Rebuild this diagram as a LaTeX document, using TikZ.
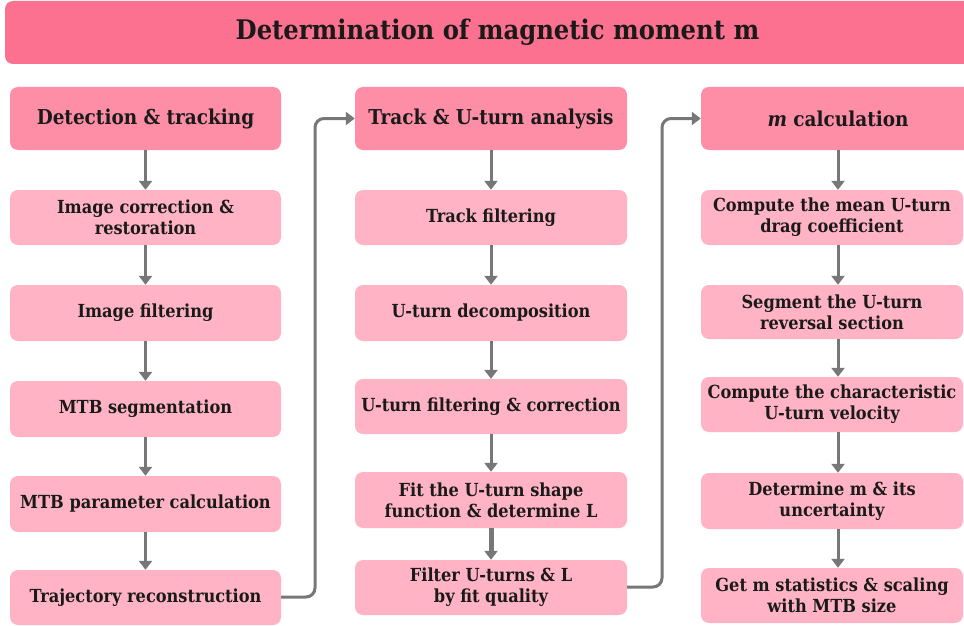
\documentclass[tikz,border=0pt]{standalone}
\usepackage{fontspec}
\setmainfont{DejaVu Serif Condensed}[BoldFont={DejaVu Serif Condensed Bold},BoldItalicFont={DejaVu Serif Condensed Bold Italic}]
\usetikzlibrary{arrows.meta}
\definecolor{titlepink}{HTML}{FD7190}
\definecolor{headpink}{HTML}{FE8DA6}
\definecolor{steppink}{HTML}{FFB3C4}
\definecolor{linegray}{HTML}{777777}
\definecolor{ink}{HTML}{1A1A1A}
\tikzset{
  box/.style={rounded corners=8pt, text=ink, align=center, inner sep=0pt, font=\bfseries},
  titlebox/.style={box, fill=titlepink, font=\bfseries\fontsize{27}{32}\selectfont},
  headbox/.style={box, fill=headpink, font=\bfseries\fontsize{20.5}{24}\selectfont},
  stepbox/.style={box, fill=steppink, font=\bfseries\fontsize{18}{21}\selectfont},
  flow/.style={draw=linegray, line width=3pt, -{Triangle[length=9pt,width=13pt]}},
  jump/.style={flow, rounded corners=9pt}
}
% box from (x1,y1) to (x2,y2), y measured downwards
\newcommand{\boxat}[7]{%
  \node[#1, minimum width={#4-#2}, minimum height={#5-#3}] (#6) at ({(#2+#4)/2},{(#3+#5)/2}) {#7};}
\begin{document}
\begin{tikzpicture}[x=1pt,y=-1pt]
\useasboundingbox (0,0) rectangle (964,626);
\clip (0,0) rectangle (964,626);

% banner
\boxat{titlebox}{5}{1}{990}{64}{title}{Determination of magnetic moment m}

% column 1
\boxat{headbox}{10}{87}{281}{150}{h1}{Detection \& tracking}
\boxat{stepbox}{10}{190}{281}{245}{a1}{Image correction \&\\restoration}
\boxat{stepbox}{10}{285}{281}{341}{a2}{Image filtering}
\boxat{stepbox}{10}{381}{281}{437}{a3}{MTB segmentation}
\boxat{stepbox}{10}{476}{281}{532}{a4}{MTB parameter calculation}
\boxat{stepbox}{10}{570}{281}{625}{a5}{Trajectory reconstruction}

% column 2
\boxat{headbox}{355}{87}{627}{150}{h2}{Track \& U-turn analysis}
\boxat{stepbox}{355}{190}{627}{245}{b1}{Track filtering}
\boxat{stepbox}{355}{285}{627}{341}{b2}{U-turn decomposition}
\boxat{stepbox}{355}{379}{627}{434}{b3}{U-turn filtering \& correction}
\boxat{stepbox}{355}{472}{627}{528}{b4}{Fit the U-turn shape\\function \& determine L}
\boxat{stepbox}{355}{560}{627}{615}{b5}{Filter U-turns \& L\\by fit quality}

% column 3 (header runs past the right edge; its text sits on the arrow axis)
\coordinate (axis3) at (838,0);
\boxat{headbox}{701}{87}{975}{150}{h3}{\textit{m} calculation}
\boxat{stepbox}{701}{190}{963}{245}{c1}{Compute the mean U-turn\\drag coefficient}
\boxat{stepbox}{701}{285}{963}{339}{c2}{Segment the U-turn\\reversal section}
\boxat{stepbox}{701}{377}{963}{432}{c3}{Compute the characteristic\\U-turn velocity}
\boxat{stepbox}{701}{473}{963}{529}{c4}{Determine m \& its\\uncertainty}
\boxat{stepbox}{701}{568}{963}{623}{c5}{Get m statistics \& scaling\\with MTB size}

% vertical flow inside each column
\foreach \u/\v in {h1/a1,a1/a2,a2/a3,a3/a4,a4/a5,h2/b1,b1/b2,b2/b3,b3/b4}
  \draw[flow] (\u.south) -- (\v.north);
\draw[flow, line width=5pt] (b4.south) -- (b5.north);
\foreach \u/\v in {h3/c1,c1/c2,c2/c3,c3/c4,c4/c5}
  \draw[flow] (\u.south -| axis3) -- (\v.north -| axis3);

% links between columns
\coordinate (k1) at (315,597);
\coordinate (k2) at (662,587);
\draw[jump] (a5.east |- k1) -- (k1) |- (h2.west);
\draw[jump] (b5.east |- k2) -- (k2) |- (h3.west);
\end{tikzpicture}
\end{document}
